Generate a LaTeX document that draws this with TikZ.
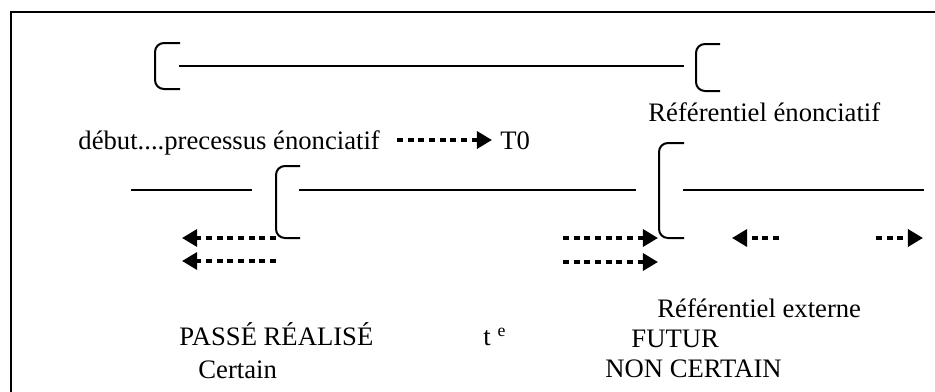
\documentclass[tikz,border=0pt]{standalone}
\usepackage{fontspec}
\setmainfont{Liberation Serif}
\usetikzlibrary{arrows.meta}
\begin{document}
\begin{tikzpicture}[x=0.45pt,y=-0.45pt,
  rule/.style={line width=0.9pt},
  brk/.style={line width=0.9pt, rounded corners=4pt},
  darr/.style={line width=2.2pt, dash pattern=on 2.7pt off 2.1pt, -{Triangle[length=6.8pt,width=7.6pt]}},
  lbl/.style={anchor=base west, inner sep=0pt, font=\fontsize{12}{14}\selectfont}]
\useasboundingbox (0,0) rectangle (935,392);
% frame (only top and left edges visible)
\coordinate (fbl) at (11,392);
\coordinate (ftl) at (11,12);
\coordinate (ftr) at (935,12);
\draw[line width=0.8pt] (fbl) -- (ftl) -- (ftr);

% top: referentiel enonciatif
\coordinate (b1a) at (180,43); \coordinate (b1b) at (155,43);
\coordinate (b1c) at (155,89); \coordinate (b1d) at (180,89);
\draw[brk] (b1a) -- (b1b) -- (b1c) -- (b1d);
\coordinate (l1s) at (179,66); \coordinate (l1e) at (684,66);
\draw[rule] (l1s) -- (l1e);
\coordinate (b2a) at (720,44); \coordinate (b2b) at (696,44);
\coordinate (b2c) at (696,91); \coordinate (b2d) at (720,91);
\draw[brk] (b2a) -- (b2b) -- (b2c) -- (b2d);

\node[lbl] (ref1) at (648,121) {Référentiel énonciatif};
\node[lbl] (deb) at (78,150) {début....precessus énonciatif};
\node[lbl] (t0) at (500,150) {T0};
\coordinate (a0s) at (397,140); \coordinate (a0e) at (492,140);
\draw[darr] (a0s) -- (a0e);

% middle time line
\coordinate (l2s) at (131,190); \coordinate (l2e) at (252,190);
\draw[rule] (l2s) -- (l2e);
\coordinate (b3a) at (300,166); \coordinate (b3b) at (276,166);
\coordinate (b3c) at (276,238); \coordinate (b3d) at (300,238);
\draw[brk] (b3a) -- (b3b) -- (b3c) -- (b3d);
\coordinate (l3s) at (299,190); \coordinate (l3e) at (636,190);
\draw[rule] (l3s) -- (l3e);
\coordinate (b4a) at (684,143); \coordinate (b4b) at (659,143);
\coordinate (b4c) at (659,238); \coordinate (b4d) at (684,238);
\draw[brk] (b4a) -- (b4b) -- (b4c) -- (b4d);
\coordinate (l4s) at (683,190); \coordinate (l4e) at (924,190);
\draw[rule] (l4s) -- (l4e);

% dotted arrows
\coordinate (p1s) at (276,238); \coordinate (p1e) at (182,238);
\coordinate (p2s) at (276,261); \coordinate (p2e) at (182,261);
\draw[darr] (p1s) -- (p1e);
\draw[darr] (p2s) -- (p2e);
\coordinate (m1s) at (563,238); \coordinate (m1e) at (658,238);
\coordinate (m2s) at (563,262); \coordinate (m2e) at (658,262);
\draw[darr] (m1s) -- (m1e);
\draw[darr] (m2s) -- (m2e);
\coordinate (r1s) at (779,238); \coordinate (r1e) at (732,238);
\draw[darr] (r1s) -- (r1e);
\coordinate (r2s) at (876,238); \coordinate (r2e) at (923,238);
\draw[darr] (r2s) -- (r2e);

% bottom labels
\node[lbl] (ref2) at (657,317) {Référentiel externe};
\node[lbl] (passe) at (179,346) {PASSÉ RÉALISÉ};
\node[lbl] (te) at (483,346) {t \textsuperscript{e}};
\node[lbl] (futur) at (631,347) {FUTUR};
\node[lbl] (cert) at (198,378) {Certain};
\node[lbl] (noncert) at (605,377) {NON CERTAIN};
\end{tikzpicture}
\end{document}
